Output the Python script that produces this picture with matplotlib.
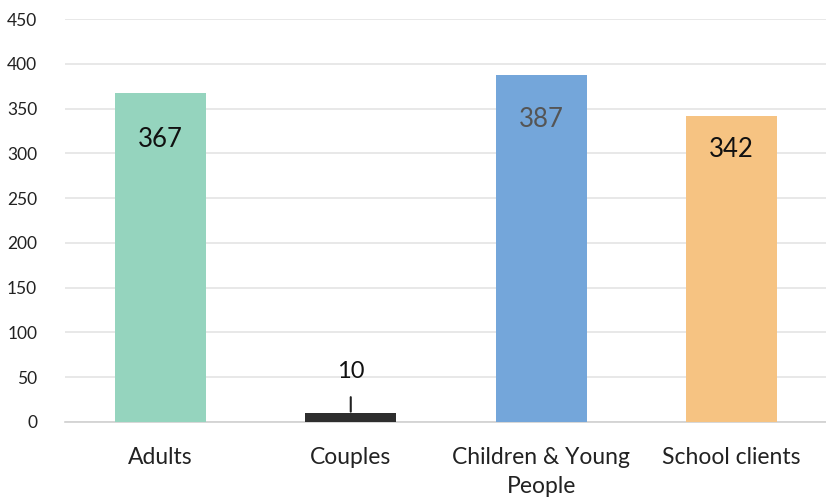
import matplotlib
matplotlib.use("Agg")
import matplotlib.pyplot as plt

categories = ["Adults", "Couples", "Children & Young\nPeople", "School clients"]
values = [367, 10, 387, 342]
colors = ["#95D4BE", "#2E2E2E", "#74A6DA", "#F6C382"]
label_colors = ["#111111", "#111111", "#555555", "#111111"]
label_offsets = [-33, 0, -32, -24]  # points relative to bar top (negative = inside)
yticks = [0, 50, 100, 150, 200, 250, 300, 350, 400, 450]

plt.rcParams['font.family'] = ['Lato', 'DejaVu Sans']

fig = plt.figure(figsize=(8.26, 5.04), dpi=100)
ax = fig.add_axes([65/826, 82/504, 762/826, 403/504])

x = list(range(len(categories)))
ax.bar(x, values, width=0.48, color=colors, zorder=3)

ax.set_xlim(-0.5, 3.5)
ax.set_ylim(0, 450)
ax.set_yticks(yticks)
ax.set_yticklabels([str(t) for t in yticks], fontsize=12.5, color="#222222")
ax.set_xticks(x)
ax.set_xticklabels(categories, fontsize=16.5, color="#222222", linespacing=1.45)
ax.tick_params(axis='both', length=0)
ax.tick_params(axis='y', pad=20)
ax.tick_params(axis='x', pad=18)

ax.grid(axis='y', color="#E4E4E4", linewidth=1.2, zorder=0)
for s in ["top", "right", "left"]:
    ax.spines[s].set_visible(False)
ax.spines["bottom"].set_color("#D0D0D0")
ax.spines["bottom"].set_linewidth(1.2)

for i, (v, off, lc) in enumerate(zip(values, label_offsets, label_colors)):
    if off < 0:
        ax.annotate(str(v), (i, v), xytext=(0, off), textcoords="offset points",
                    ha="center", va="center", fontsize=18.5, color=lc, zorder=4)
    else:
        ax.annotate(str(v), (i, v), xytext=(0, 30), textcoords="offset points",
                    ha="center", va="center", fontsize=17, color=lc, zorder=4,
                    arrowprops=dict(arrowstyle="-", color="#222222", lw=1.5,
                                    shrinkA=9, shrinkB=1))

fig.savefig("out.png", dpi=100)
